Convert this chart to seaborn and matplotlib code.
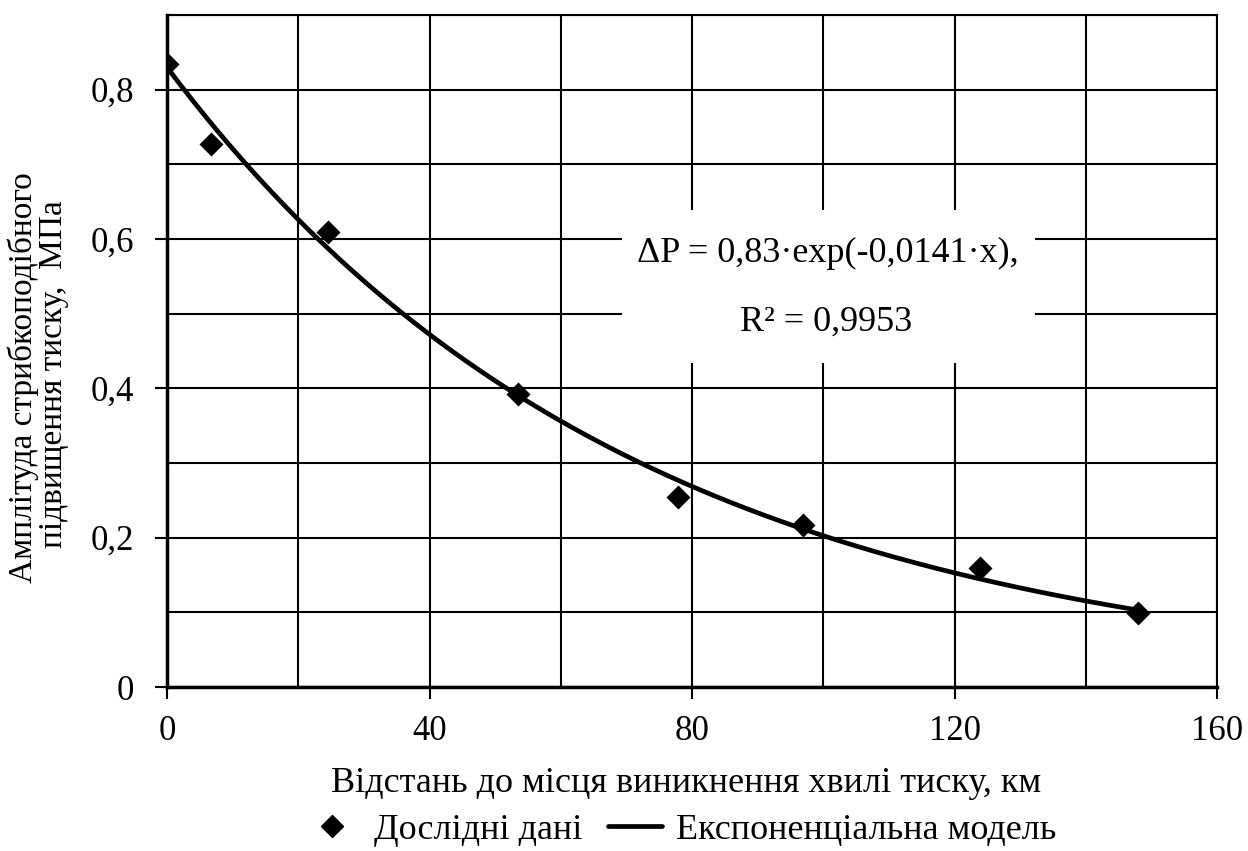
import numpy as np
import pandas as pd
import matplotlib
matplotlib.use("Agg")
import matplotlib.pyplot as plt
from matplotlib.lines import Line2D
from matplotlib.patches import Rectangle
import seaborn as sns

# Measured pressure-surge amplitude vs. distance from the wave origin
distance_km = [0.0, 6.7, 24.5, 53.5, 77.9, 96.9, 123.9, 148.0]
amplitude_mpa = [0.834, 0.727, 0.609, 0.393, 0.255, 0.217, 0.160, 0.099]

# Exponential model parameters
model_a = 0.83
model_k = 0.0141
model_r2 = "0,9953"

x_ticks = [0, 40, 80, 120, 160]
y_ticks = [0, 0.2, 0.4, 0.6, 0.8]
y_tick_labels = ["0", "0,2", "0,4", "0,6", "0,8"]

sns.set_theme(style="white")
plt.rcParams["font.family"] = ["Liberation Serif", "DejaVu Serif"]
for key in ("text.color", "axes.labelcolor", "xtick.color", "ytick.color"):
    plt.rcParams[key] = "black"

W, H = 1248, 851
fig = plt.figure(figsize=(W / 100, H / 100), dpi=100)
ax = fig.add_axes([167 / W, 1 - 687 / H, (1217 - 167) / W, (687 - 15) / H])

points = pd.DataFrame({"x": distance_km, "y": amplitude_mpa})
xs = np.linspace(min(distance_km), max(distance_km), 300)
model = pd.DataFrame({"x": xs, "y": model_a * np.exp(-model_k * xs)})

sns.lineplot(data=model, x="x", y="y", ax=ax, color="black", linewidth=3.4, zorder=4)
sns.scatterplot(data=points, x="x", y="y", ax=ax, marker="D", s=150,
                color="black", edgecolor="black", linewidth=0, zorder=5)

ax.set_xlim(0, 160)
ax.set_ylim(0, 0.9)

# grid every 20 km / 0,1 MPa, labels on every other line
ax.set_xticks(x_ticks)
ax.set_xticks(np.arange(0, 161, 20), minor=True)
ax.set_yticks(y_ticks)
ax.set_yticks(np.arange(0, 0.91, 0.1), minor=True)
ax.set_yticklabels(y_tick_labels)
ax.grid(True, which="both", color="black", linewidth=1.5)
ax.set_axisbelow(True)
ax.tick_params(axis="both", which="major", direction="out", length=8.5, width=1.5,
               color="black", labelsize=25, left=True, bottom=True)
ax.tick_params(axis="y", which="major", pad=15)
ax.tick_params(axis="x", which="major", pad=12)
ax.tick_params(axis="both", which="minor", length=0)
for s in ax.spines.values():
    s.set_color("black")
    s.set_linewidth(1.5)
ax.spines["left"].set_linewidth(2.5)
ax.spines["bottom"].set_linewidth(2.5)

ax.set_xlabel("")
ax.set_ylabel("")

# white panel behind the model equation
ax.add_patch(Rectangle(((622 - 167) / 1050, (687 - 363) / 672), 413 / 1050, 153 / 672,
                       transform=ax.transAxes, facecolor="white", edgecolor="none", zorder=1.5))
ax.text((828 - 167) / 1050, (687 - 253) / 672, "ΔP = 0,83·exp(-0,0141·x),",
        transform=ax.transAxes, ha="center", va="center", fontsize=26, zorder=6)
ax.text((826 - 167) / 1050, (687 - 322) / 672, "R² = " + model_r2,
        transform=ax.transAxes, ha="center", va="center", fontsize=26, zorder=6)

fig.text(686 / W, 1 - 784 / H, "Відстань до місця виникнення хвилі тиску, км",
         ha="center", va="center", fontsize=26)
fig.text(23 / W, 1 - 378 / H, "Амплітуда стрибкоподібного",
         ha="center", va="center", rotation=90, fontsize=24)
fig.text(54 / W, 1 - 374 / H, "підвищення тиску,  МПа",
         ha="center", va="center", rotation=90, fontsize=24)

handles = [
    Line2D([], [], marker="D", linestyle="none", color="black", markersize=11),
    Line2D([], [], color="black", linewidth=3.4),
]
fig.legend(handles, ["Дослідні дані", "Експоненціальна модель"],
           loc="center", bbox_to_anchor=(681 / W, 1 - 830 / H), ncol=2,
           frameon=False, fontsize=26, handlelength=1.5, handletextpad=0.4,
           columnspacing=0.7, borderpad=0, borderaxespad=0)

fig.savefig("out.png", dpi=100, facecolor="white")
